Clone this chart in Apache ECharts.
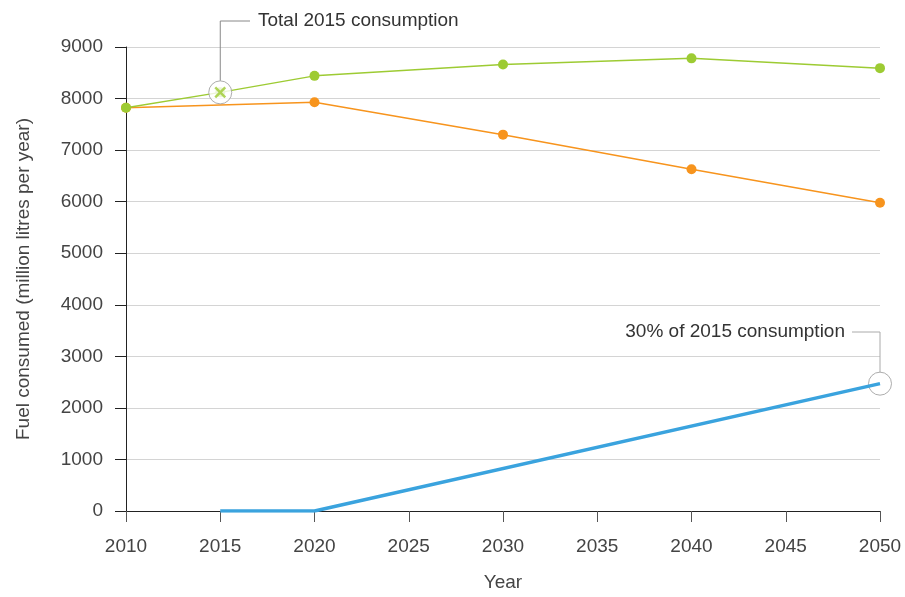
<!DOCTYPE html>
<html>
<head>
<meta charset="utf-8">
<script src="https://cdn.jsdelivr.net/npm/echarts@6/dist/echarts.min.js"></script>
<style>html,body{margin:0;padding:0;background:#fff}#c{width:905px;height:597px}</style>
</head>
<body>
<div id="c"></div>
<script>
const totalYears = [2010, 2020, 2030, 2040, 2050];
const totalValues = [7820, 8440, 8660, 8780, 8590];
const totalMarkYear = 2015;
const totalMarkValue = 8120;
const baseYears = [2010, 2020, 2030, 2040, 2050];
const baseValues = [7820, 7930, 7300, 6630, 5980];
const targetYears = [2015, 2020, 2050];
const targetValues = [0, 0, 2470];
const xTicks = [2010, 2015, 2020, 2025, 2030, 2035, 2040, 2045, 2050];
const yTicks = [0, 1000, 2000, 3000, 4000, 5000, 6000, 7000, 8000, 9000];
const annoTotal = 'Total 2015 consumption';
const annoTarget = '30% of 2015 consumption';

const FONT = 'Liberation Sans';
const TXT = '#444';
const green = '#9dcb33', orange = '#f7941d', blue = '#3aa3de';

const zip = (a, b) => a.map((x, i) => [x, b[i]]);
const totalData = zip(totalYears, totalValues);
totalData.splice(1, 0, [totalMarkYear, totalMarkValue]);

const chart = echarts.init(document.getElementById('c'), null, {renderer: 'canvas'});
const crossPath = 'path://M0,0L10,10M10,0L0,10';
chart.setOption({
  animation: false,
  backgroundColor: '#fff',
  grid: {left: 126, right: 25, top: 47, bottom: 83},
  xAxis: {
    type: 'value', min: xTicks[0], max: xTicks[xTicks.length - 1], interval: 5,
    name: 'Year', nameLocation: 'middle', nameGap: 62,
    nameTextStyle: {fontFamily: FONT, fontSize: 19, color: TXT},
    axisLine: {lineStyle: {color: '#222', width: 1}},
    axisTick: {show: true, length: 11, lineStyle: {color: '#555'}},
    axisLabel: {margin: 26, fontFamily: FONT, fontSize: 19, color: TXT, formatter: v => String(v)},
    splitLine: {show: false}
  },
  yAxis: {
    type: 'value', min: yTicks[0], max: yTicks[yTicks.length - 1], interval: 1000,
    name: 'Fuel consumed (million litres per year)', nameLocation: 'middle', nameGap: 93,
    nameTextStyle: {fontFamily: FONT, fontSize: 19, color: TXT},
    axisLine: {show: true, lineStyle: {color: '#222', width: 1}},
    axisTick: {show: true, length: 11, lineStyle: {color: '#222'}},
    axisLabel: {margin: 23, fontFamily: FONT, fontSize: 19, color: TXT, formatter: v => String(v)},
    splitLine: {show: true, lineStyle: {color: '#d4d4d4', width: 1}}
  },
  series: [
    {
      type: 'line', data: totalData, z: 3,
      lineStyle: {color: green, width: 1.5},
      itemStyle: {color: green},
      symbol: 'circle', symbolSize: 10,
      showAllSymbol: true
    },
    {
      type: 'line', data: zip(baseYears, baseValues), z: 2,
      lineStyle: {color: orange, width: 1.5},
      itemStyle: {color: orange},
      symbol: 'circle', symbolSize: 10
    },
    {
      type: 'line', data: zip(targetYears, targetValues), z: 7,
      lineStyle: {color: blue, width: 3.5},
      symbol: 'none'
    },
    {
      type: 'scatter', z: 5,
      data: [[totalMarkYear, totalMarkValue], [targetYears[targetYears.length - 1], targetValues[targetValues.length - 1]]],
      symbol: 'circle', symbolSize: 23,
      itemStyle: {color: '#fff', borderColor: '#999', borderWidth: 1}
    },
    {
      type: 'scatter', z: 6,
      data: [[totalMarkYear, totalMarkValue]],
      symbol: crossPath, symbolSize: 10,
      itemStyle: {color: 'none', borderColor: green, borderWidth: 2.5}
    }
  ]
});

// Leader lines + annotation labels, positioned from the data via the chart's scales
const p1 = chart.convertToPixel({gridIndex: 0}, [totalMarkYear, totalMarkValue]);
const p2 = chart.convertToPixel({gridIndex: 0}, [targetYears[targetYears.length - 1], targetValues[targetValues.length - 1]]);
const r = 11.5;
chart.setOption({
  graphic: [
    {type: 'polyline', shape: {points: [[p1[0], p1[1] - r], [p1[0], 21], [250, 21]]}, style: {stroke: '#888', lineWidth: 1, fill: null}},
    {type: 'text', x: 258, y: 21, style: {text: annoTotal, fontFamily: FONT, fontSize: 19, fill: '#333', verticalAlign: 'middle', align: 'left'}},
    {type: 'polyline', shape: {points: [[852, 332], [p2[0], 332], [p2[0], p2[1] - r]]}, style: {stroke: '#aaa', lineWidth: 1, fill: null}},
    {type: 'text', x: 845, y: 332, style: {text: annoTarget, fontFamily: FONT, fontSize: 19, fill: '#333', verticalAlign: 'middle', align: 'right'}}
  ]
});
</script>
</body>
</html>
